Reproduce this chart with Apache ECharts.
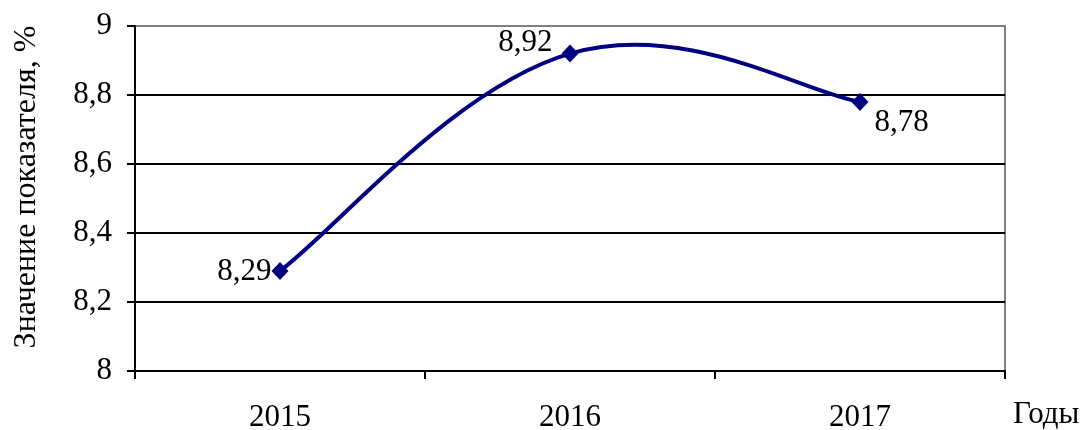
<!DOCTYPE html>
<html><head><meta charset="utf-8">
<script src="https://cdn.jsdelivr.net/npm/echarts@6/dist/echarts.min.js"></script>
<style>html,body{margin:0;padding:0;background:#fff}#c{width:1090px;height:430px}</style>
</head><body><div id="c"></div>
<script>
const categories = ['2015', '2016', '2017'];
const values = [8.29, 8.92, 8.78];
const yTicks = [8, 8.2, 8.4, 8.6, 8.8, 9];
const yAxisName = 'Значение показателя, %';
const xAxisName = 'Годы';

const font = 'Liberation Serif';
const fs = 31;
const labelPos = [
  {position: 'left', distance: 0, offset: [0, 1]},
  {position: 'left', distance: 9, offset: [0, -11]},
  {position: 'right', distance: 6, offset: [0, 21]}
];
const K = 0.2; // smoothing tension

function segment(params, api) {
  const i = params.dataIndex;
  const n = values.length;
  if (i >= n - 1) return null;
  const P = idx => { const j = Math.max(0, Math.min(n - 1, idx)); return api.coord([j, values[j]]); };
  const p0 = P(i - 1), p1 = P(i), p2 = P(i + 1), p3 = P(i + 2);
  const t1 = [p2[0] - p0[0], p2[1] - p0[1]];
  const t2 = [p3[0] - p1[0], p3[1] - p1[1]];
  return {
    type: 'bezierCurve',
    shape: {x1: p1[0], y1: p1[1], x2: p2[0], y2: p2[1],
      cpx1: p1[0] + K * t1[0], cpy1: p1[1] + K * t1[1],
      cpx2: p2[0] - K * t2[0], cpy2: p2[1] - K * t2[1]},
    style: {stroke: '#000080', lineWidth: 4, fill: null}
  };
}

const chart = echarts.init(document.getElementById('c'));
chart.setOption({
  animation: false,
  grid: {left: 135, right: 85, top: 26, bottom: 59, show: true, borderColor: '#808080', borderWidth: 2,
    containLabel: false, outerBoundsMode: 'none'},
  xAxis: {
    type: 'category', data: categories, boundaryGap: true,
    axisLine: {lineStyle: {color: '#000', width: 2}},
    axisTick: {show: true, length: 8, lineStyle: {color: '#000', width: 2}},
    axisLabel: {fontFamily: font, fontSize: fs, color: '#000', margin: 31}
  },
  yAxis: {
    type: 'value', min: yTicks[0], max: yTicks[yTicks.length - 1], interval: 0.2,
    axisLine: {show: true, lineStyle: {color: '#000', width: 2}},
    axisTick: {show: true, length: 8, lineStyle: {color: '#000', width: 2}},
    axisLabel: {fontFamily: font, fontSize: fs, color: '#000', margin: 23,
      formatter: v => String(Math.round(v * 10) / 10).replace('.', ',')},
    splitLine: {show: true, lineStyle: {color: ['#000', '#000', '#000', '#000', '#000', '#808080'], width: 2}}
  },
  graphic: [{
    type: 'text', left: 1013, top: 399,
    style: {text: xAxisName, font: fs + 'px ' + font, fill: '#000'}
  }, {
    type: 'text', x: 27, y: 187, rotation: Math.PI / 2,
    style: {text: yAxisName, font: '32px ' + font, fill: '#000', align: 'center', verticalAlign: 'middle'}
  }],
  series: [{
    type: 'custom', renderItem: segment, data: values, z: 2, silent: true
  }, {
    type: 'scatter', z: 3,
    data: values.map((v, i) => ({value: [i, v], label: labelPos[i]})),
    symbol: 'diamond', symbolSize: [17, 18],
    itemStyle: {color: '#000080', opacity: 1},
    label: {show: true, fontFamily: font, fontSize: fs, color: '#000',
      formatter: p => String(p.value[1]).replace('.', ',')}
  }]
});
</script></body></html>
